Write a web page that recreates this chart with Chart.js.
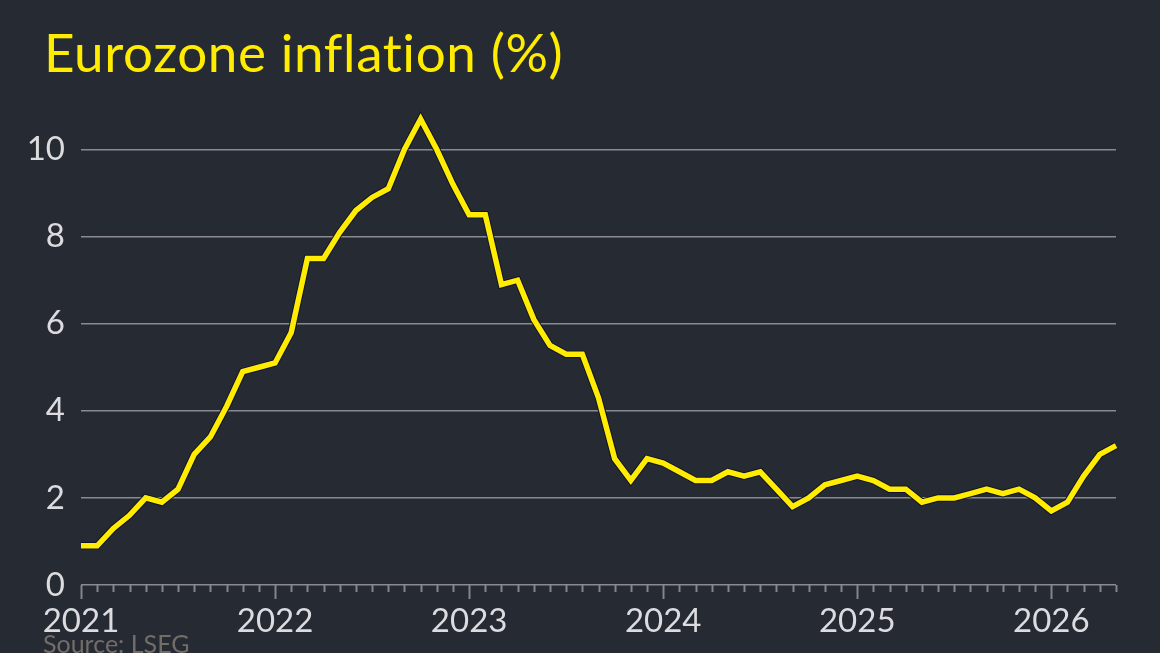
<!DOCTYPE html>
<html>
<head>
<meta charset="utf-8">
<script src="https://cdn.jsdelivr.net/npm/chart.js@4.4.1/dist/chart.umd.min.js"></script>
<style>
  html, body { margin: 0; padding: 0; background: #262a33; }
  #wrap { position: relative; width: 1160px; height: 653px; overflow: hidden; }
  #title { position: absolute; left: 44px; top: 20px; font: 53px Lato, sans-serif; letter-spacing: 0.6px; color: #ffec00; white-space: nowrap; font-variant-ligatures: none; font-feature-settings: "liga" 0; }
  #source { position: absolute; left: 43px; top: 628px; font: 25px Lato, sans-serif; color: #736d68; }
  canvas { position: absolute; left: 0; top: 0; }
</style>
</head>
<body>
<div id="wrap">
  <div id="title">Eurozone inflation (%)</div>
  <canvas id="c" width="1160" height="653"></canvas>
  <div id="source">Source: LSEG</div>
</div>
<script>
// monthly, Jan 2021 .. May 2026
const years = [2021, 2022, 2023, 2024, 2025, 2026];
const inflation2021 = [0.9, 0.9, 1.3, 1.6, 2.0, 1.9, 2.2, 3.0, 3.4, 4.1, 4.9, 5.0];
const inflation2022 = [5.1, 5.8, 7.5, 7.5, 8.1, 8.6, 8.9, 9.1, 10.0, 10.7, 10.0, 9.2];
const inflation2023 = [8.5, 8.5, 6.9, 7.0, 6.1, 5.5, 5.3, 5.3, 4.3, 2.9, 2.4, 2.9];
const inflation2024 = [2.8, 2.6, 2.4, 2.4, 2.6, 2.5, 2.6, 2.2, 1.8, 2.0, 2.3, 2.4];
const inflation2025 = [2.5, 2.4, 2.2, 2.2, 1.9, 2.0, 2.0, 2.1, 2.2, 2.1, 2.2, 2.0];
const inflation2026 = [1.7, 1.9, 2.5, 3.0, 3.2];
const yTicks = [0, 2, 4, 6, 8, 10];

const series = [inflation2021, inflation2022, inflation2023, inflation2024, inflation2025, inflation2026];
const labels = [];
const values = [];
series.forEach((arr, i) => {
  arr.forEach((v, m) => {
    labels.push(years[i] + '-' + String(m + 1).padStart(2, '0'));
    values.push(v);
  });
});

// month tick marks under the zero line, longer for January
const monthTicks = {
  id: 'monthTicks',
  afterDraw(chart) {
    const ctx = chart.ctx;
    const x = chart.scales.x, y = chart.scales.y;
    const y0 = y.getPixelForValue(0);
    ctx.save();
    ctx.strokeStyle = '#85858b';
    ctx.lineWidth = 2;
    labels.forEach((l, i) => {
      const px = Math.round(x.getPixelForValue(i)) + 0.5;
      const len = l.endsWith('-01') ? 14 : 7;
      ctx.beginPath();
      ctx.moveTo(px, y0);
      ctx.lineTo(px, y0 + len);
      ctx.stroke();
    });
    ctx.restore();
  }
};

// dark outline under the yellow line
const outline = {
  id: 'outline',
  beforeDatasetDraw(chart, args) {
    const el = args.meta.dataset;
    const o = el.options;
    const bw = o.borderWidth, bc = o.borderColor;
    o.borderWidth = bw + 2;
    o.borderColor = '#10142a';
    el.draw(chart.ctx, chart.chartArea);
    o.borderWidth = bw;
    o.borderColor = bc;
  }
};

Chart.defaults.font.family = 'Lato, sans-serif';

new Chart(document.getElementById('c'), {
  type: 'line',
  data: {
    labels: labels,
    datasets: [{
      data: values,
      borderColor: '#ffec00',
      borderWidth: 5.5,
      pointRadius: 0,
      tension: 0,
      borderJoinStyle: 'miter',
      clip: false
    }]
  },
  options: {
    responsive: false,
    animation: false,
    layout: { padding: { left: 0, right: 44, top: 106, bottom: 0 } },
    plugins: { legend: { display: false }, tooltip: { enabled: false } },
    scales: {
      x: {
        type: 'category',
        offset: false,
        afterFit(s) { s.height = 68; },
        grid: { display: false, drawTicks: false },
        border: { display: false },
        ticks: {
          autoSkip: false,
          maxRotation: 0,
          padding: 17,
          color: '#dcdce0',
          font: { size: 33 },
          callback(v, i) {
            const l = labels[i];
            return l.endsWith('-01') ? l.slice(0, 4) : '';
          }
        }
      },
      y: {
        min: 0,
        max: 11,
        afterFit(s) { s.width = 81; },
        afterBuildTicks(s) { s.ticks = yTicks.map(v => ({ value: v })); },
        grid: { color: '#8a8a90', lineWidth: 1.5, drawTicks: false },
        border: { display: false },
        ticks: {
          padding: 16,
          color: '#dcdce0',
          font: { size: 33 }
        }
      }
    }
  },
  plugins: [monthTicks, outline]
});
</script>
</body>
</html>
